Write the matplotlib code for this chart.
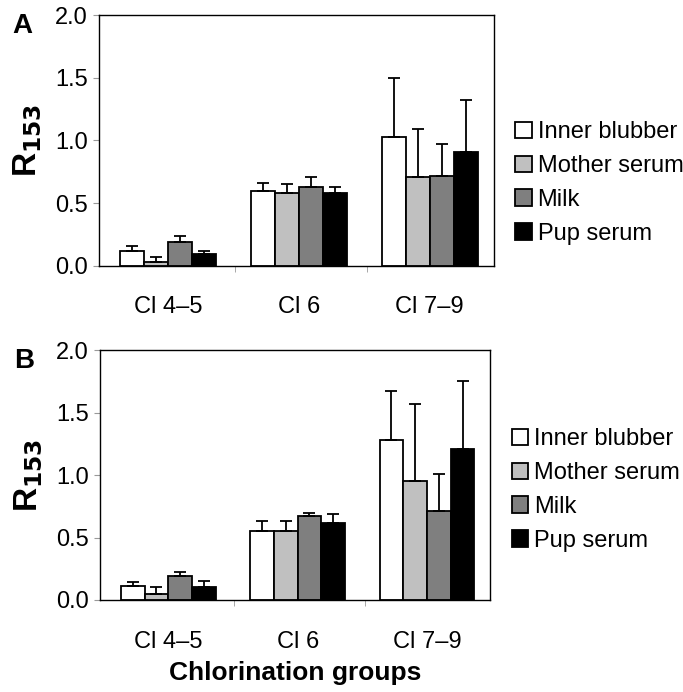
import numpy as np
import matplotlib.pyplot as plt

plt.rcParams['font.family'] = ['Liberation Sans', 'DejaVu Sans']

groups = ["Cl 4\u20135", "Cl 6", "Cl 7\u20139"]
series = ["Inner blubber", "Mother serum", "Milk", "Pup serum"]
colors = ["#ffffff", "#c0c0c0", "#7f7f7f", "#000000"]

# panel A: means and upper error (top of whisker)
a_mean = [[0.12, 0.60, 1.03],
          [0.03, 0.58, 0.71],
          [0.19, 0.63, 0.72],
          [0.09, 0.58, 0.91]]
a_top = [[0.16, 0.66, 1.50],
         [0.07, 0.65, 1.09],
         [0.24, 0.71, 0.97],
         [0.12, 0.63, 1.32]]

# panel B
b_mean = [[0.11, 0.55, 1.28],
          [0.05, 0.55, 0.95],
          [0.19, 0.67, 0.71],
          [0.10, 0.62, 1.21]]
b_top = [[0.14, 0.63, 1.67],
         [0.10, 0.63, 1.57],
         [0.22, 0.70, 1.01],
         [0.15, 0.69, 1.75]]


def draw_panel(ax, means, tops, letter, leg_y):
    x = np.arange(len(groups))
    width = 0.183
    for i, (m, t) in enumerate(zip(means, tops)):
        m = np.array(m)
        err = np.array(t) - m
        ax.bar(x + (i - 1.5) * width, m, width, color=colors[i], edgecolor="black",
               linewidth=1.3, label=series[i],
               yerr=[np.zeros_like(m), err], capsize=4.5,
               error_kw=dict(elinewidth=1.3, capthick=1.3, ecolor="black"))
    ax.set_xlim(-0.53, 2.49)
    ax.set_ylim(0, 2.0)
    ax.set_yticks([0, 0.5, 1.0, 1.5, 2.0])
    ax.set_yticklabels(["0.0", "0.5", "1.0", "1.5", "2.0"])
    ax.set_xticks(x)
    ax.set_xticklabels(groups)
    ax.set_xticks([0.51, 1.52], minor=True)
    ax.tick_params(axis="x", which="major", length=0, pad=22, labelsize=17)
    ax.tick_params(axis="x", which="minor", length=4, direction="out", color="#999999")
    ax.tick_params(axis="y", length=4, direction="out", labelsize=17, pad=4, color="#999999")
    for sp in ax.spines.values():
        sp.set_linewidth(1.0)
    ax.set_ylabel("R$_{\\mathbf{153}}$", fontsize=24, fontweight="bold", labelpad=8)
    ax.text(-0.168, 1.01, letter, transform=ax.transAxes, fontsize=20, fontweight="bold",
            ha="right", va="top")
    ax.legend(loc="center left", bbox_to_anchor=(1.03, leg_y), frameon=False, fontsize=17,
              handlelength=0.7, handleheight=0.7, handletextpad=0.25, labelspacing=0.5,
              borderaxespad=0)


fig = plt.figure(figsize=(6.83, 6.92), dpi=100)
ax_a = fig.add_axes([0.145, 0.616, 0.578, 0.362])
ax_b = fig.add_axes([0.146, 0.133, 0.572, 0.361])

draw_panel(ax_a, a_mean, a_top, "A", 0.33)
draw_panel(ax_b, b_mean, b_top, "B", 0.44)
ax_b.set_xlabel("Chlorination groups", fontsize=19, fontweight="bold", labelpad=6)

fig.savefig("out.png", dpi=100)
